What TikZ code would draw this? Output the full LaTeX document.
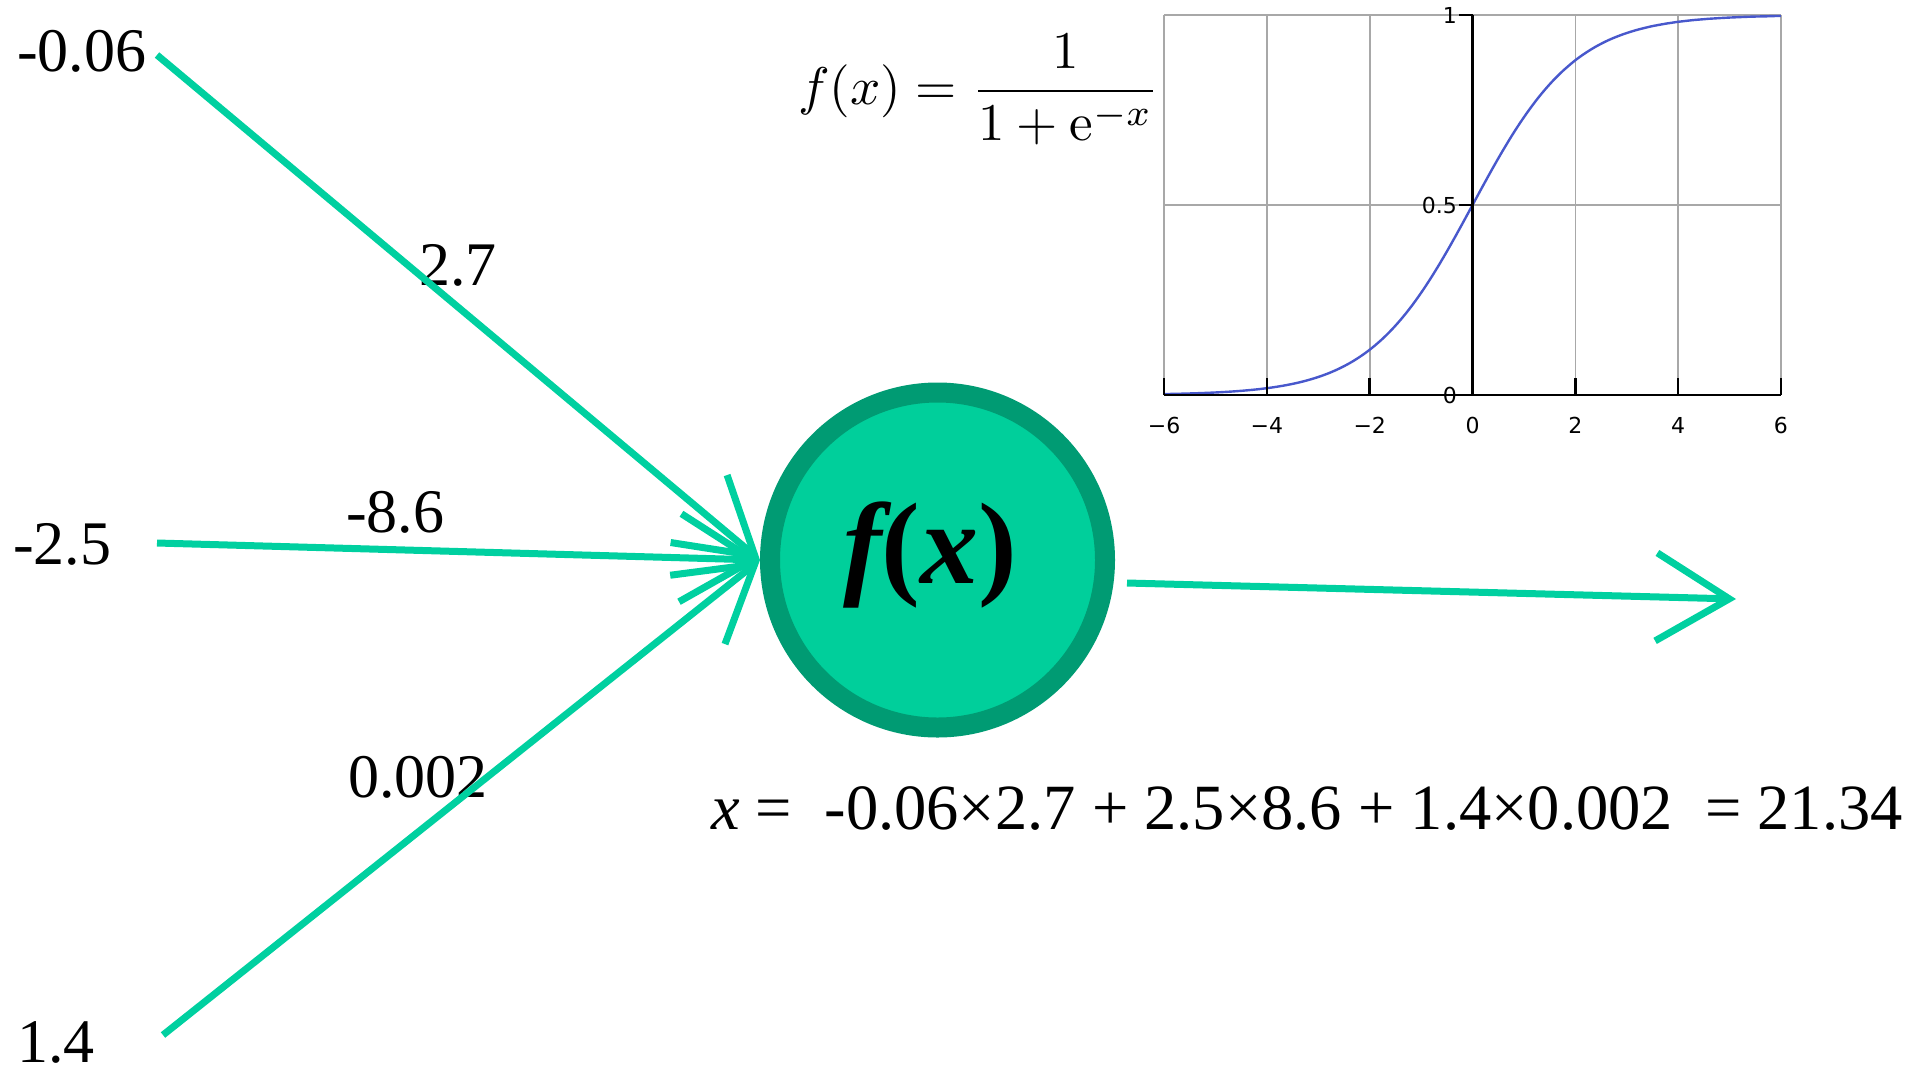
\documentclass[tikz,border=0pt]{standalone}
\usepackage[no-math]{fontspec}
\setmainfont{Liberation Serif}
\newfontfamily\plotfont{DejaVu Sans}
\usetikzlibrary{arrows.meta}
\definecolor{nfill}{RGB}{0,207,155}
\definecolor{nborder}{RGB}{0,155,115}
\definecolor{wire}{RGB}{0,208,160}
\definecolor{curvecol}{RGB}{72,88,204}
\definecolor{gridcol}{RGB}{168,168,168}
\begin{document}
\begin{tikzpicture}[x=1pt,y=-1pt,
  lbl/.style={anchor=base west, inner sep=0pt, font=\fontsize{62}{70}\selectfont},
  wirestyle/.style={draw=wire, line width=7pt},
  arr/.style={wirestyle, -{Straight Barb[length=73pt, width=88pt]}},
  neuron/.style={circle, fill=nfill, draw=nborder, line width=20pt, minimum size=335pt, inner sep=0pt},
  gridline/.style={draw=gridcol, line width=1.6pt},
  axisline/.style={draw=black, line width=2.6pt},
  ticklbl/.style={inner sep=0pt, font=\plotfont\fontsize{22}{24}\selectfont}
]
\useasboundingbox (0,0) rectangle (1918,1072);

% input values
\node[lbl] (v1) at (17,71.6) {-0.06};
\node[lbl] (v2) at (13,564) {-2.5};
\node[lbl, text depth=0pt] (v3) at (17,1062) {1.4};
\coordinate (s1) at (157,55);
\coordinate (s2) at (157,543);
\coordinate (s3) at (163,1035);

% weights
\node[lbl] (w1) at (419,285) {2.7};
\node[lbl] (w2) at (346,532) {-8.6};
\node[lbl] (w3) at (348,797) {0.002};

% neuron
\node[neuron] (fx) at (937.5,560) {};
\node[anchor=base, inner sep=0pt, font=\fontsize{116}{120}\selectfont\bfseries] (fxl) at (930,583) {{\itshape f}({\itshape x})};

% connectors
\draw[arr] (s1) -- (fx.west);
\draw[arr] (s2) -- (fx.west);
\draw[arr] (s3) -- (fx.west);
\coordinate (o0) at (1127,583);
\coordinate (o1) at (1736,599);
\draw[arr] (o0) -- (o1);

% equation
\node[lbl, font=\fontsize{64.5}{70}\selectfont] (eq) at (711,829) {{\itshape x} =\ \ -0.06×2.7 + 2.5×8.6 + 1.4×0.002\ \ = 21.34};

% formula
\node[anchor=base west, inner sep=0pt, scale=5.3] (formula) at (797,104) {$\displaystyle f(x)=\frac{1}{1+\mathrm{e}^{-x}}$};

% plot
\begin{scope}[shift={(1472.5,395)}, x=51.4pt, y=380pt]
  \foreach \gx in {-6,-4,-2,2,4,6} \draw[gridline] (\gx,0) -- (\gx,1);
  \draw[gridline] (-6,0.5) -- (6,0.5);
  \draw[gridline] (-6,1) -- (6,1);
  \draw[curvecol, line width=2.4pt] plot[domain=-6:6, samples=120, smooth] (\x,{1/(1+exp(-\x))});
  \draw[axisline] (-6,0) -- (6,0);
  \draw[axisline] (0,0) -- (0,1);
  \foreach \gx in {-6,-4,-2,2,4,6} \draw[axisline] (\gx,0) -- (\gx,0.045);
  \foreach \gy in {0,0.5,1} \draw[axisline] (0,\gy) -- (-0.27,\gy);
  \node[ticklbl, anchor=east] (y0) at (-0.3,0) {0};
  \node[ticklbl, anchor=east] (y05) at (-0.3,0.5) {0.5};
  \node[ticklbl, anchor=east] (y1) at (-0.3,1) {1};
  \foreach \gx/\gt in {-6/−6,-4/−4,-2/−2,0/0,2/2,4/4,6/6}
    \node[ticklbl] at (\gx,-0.079) {\gt};
\end{scope}
\end{tikzpicture}
\end{document}
